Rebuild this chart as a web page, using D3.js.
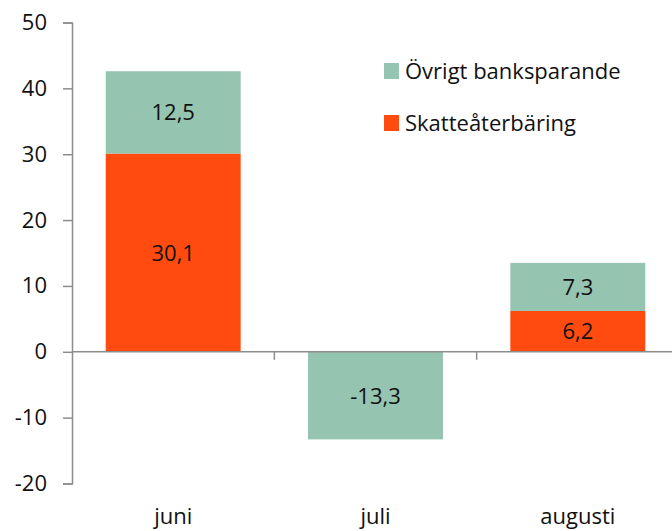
<!DOCTYPE html>
<html>
<head>
<meta charset="utf-8">
<script src="https://cdn.jsdelivr.net/npm/d3@7"></script>
<style>
  body { margin: 0; background: #fff; }
  text { font-family: "Open Sans", sans-serif; fill: #111; }
</style>
</head>
<body>
<svg id="chart" width="672" height="531"></svg>
<script>
'use strict';

// data
var months = ['juni', 'juli', 'augusti'];
var skatt = [30.1, 0, 6.2];          // Skatteåterbäring
var ovrigt = [12.5, -13.3, 7.3];     // Övrigt banksparande
var yTicks = [-20, -10, 0, 10, 20, 30, 40, 50];
var seriesNames = ['Övrigt banksparande', 'Skatteåterbäring'];
var seriesColors = ['#95c4b0', '#ff4b0f'];

var svg = d3.select('#chart');
var axisCol = '#8c8c8c';
var fs = '22px';

var y = d3.scaleLinear().domain([-20, 50]).range([483.5, 22.5]);
var x = d3.scaleBand().domain(months).range([72, 679])
  .paddingInner(0.333).paddingOuter(0.1667);
var step = x.step();

// stacked segments: orange from 0, green on top (or below 0 when negative)
var segs = [];
months.forEach(function(m, i) {
  if (skatt[i] !== 0)
    segs.push({ m: m, y0: 0, y1: skatt[i], v: skatt[i], c: seriesColors[1] });
  var base = ovrigt[i] >= 0 ? skatt[i] : 0;
  segs.push({ m: m, y0: base, y1: base + ovrigt[i], v: ovrigt[i], c: seriesColors[0] });
});

svg.append('g').selectAll('rect').data(segs).enter().append('rect')
  .attr('x', function(d) { return x(d.m); })
  .attr('width', x.bandwidth())
  .attr('y', function(d) { return y(Math.max(d.y0, d.y1)); })
  .attr('height', function(d) { return Math.abs(y(d.y0) - y(d.y1)); })
  .attr('fill', function(d) { return d.c; });

svg.append('g').selectAll('text').data(segs).enter().append('text')
  .attr('x', function(d) { return x(d.m) + x.bandwidth() / 2; })
  .attr('y', function(d) { return (y(d.y0) + y(d.y1)) / 2; })
  .attr('dy', '0.36em')
  .attr('text-anchor', 'middle')
  .style('font-size', fs)
  .text(function(d) { return d.v.toFixed(1).replace('.', ','); });

// y axis
var yAxis = d3.axisLeft(y).tickValues(yTicks).tickSize(9).tickPadding(16)
  .tickFormat(function(d) { return String(d); });
var yg = svg.append('g').attr('transform', 'translate(72,0)').call(yAxis);
yg.select('.domain').attr('stroke', axisCol).attr('stroke-width', 1.5);
yg.selectAll('.tick line').attr('stroke', axisCol).attr('stroke-width', 1.5);
yg.selectAll('.tick text').style('font-size', fs).attr('fill', '#111')
  .attr('font-family', '"Open Sans", sans-serif');

// zero line with category ticks
var zero = y(0);
svg.append('line').attr('x1', 72).attr('x2', 679)
  .attr('y1', zero).attr('y2', zero)
  .attr('stroke', axisCol).attr('stroke-width', 1.5);
svg.append('g').selectAll('line').data(months.slice(1)).enter().append('line')
  .attr('x1', function(d) { return x(d) - x.paddingInner() * step / 2; })
  .attr('x2', function(d) { return x(d) - x.paddingInner() * step / 2; })
  .attr('y1', zero).attr('y2', zero + 8)
  .attr('stroke', axisCol).attr('stroke-width', 1.5);

// category labels at the bottom
svg.append('g').selectAll('text').data(months).enter().append('text')
  .attr('x', function(d) { return x(d) + x.bandwidth() / 2; })
  .attr('y', 524)
  .attr('text-anchor', 'middle')
  .style('font-size', fs)
  .text(function(d) { return d; });

// legend
var leg = svg.append('g').selectAll('g').data(seriesNames).enter().append('g')
  .attr('transform', function(d, i) { return 'translate(384,' + (63 + i * 52) + ')'; });
leg.append('rect').attr('width', 15).attr('height', 16)
  .attr('fill', function(d, i) { return seriesColors[i]; });
leg.append('text').attr('x', 21).attr('y', 16)
  .style('font-size', fs)
  .text(function(d) { return d; });
</script>
</body>
</html>
